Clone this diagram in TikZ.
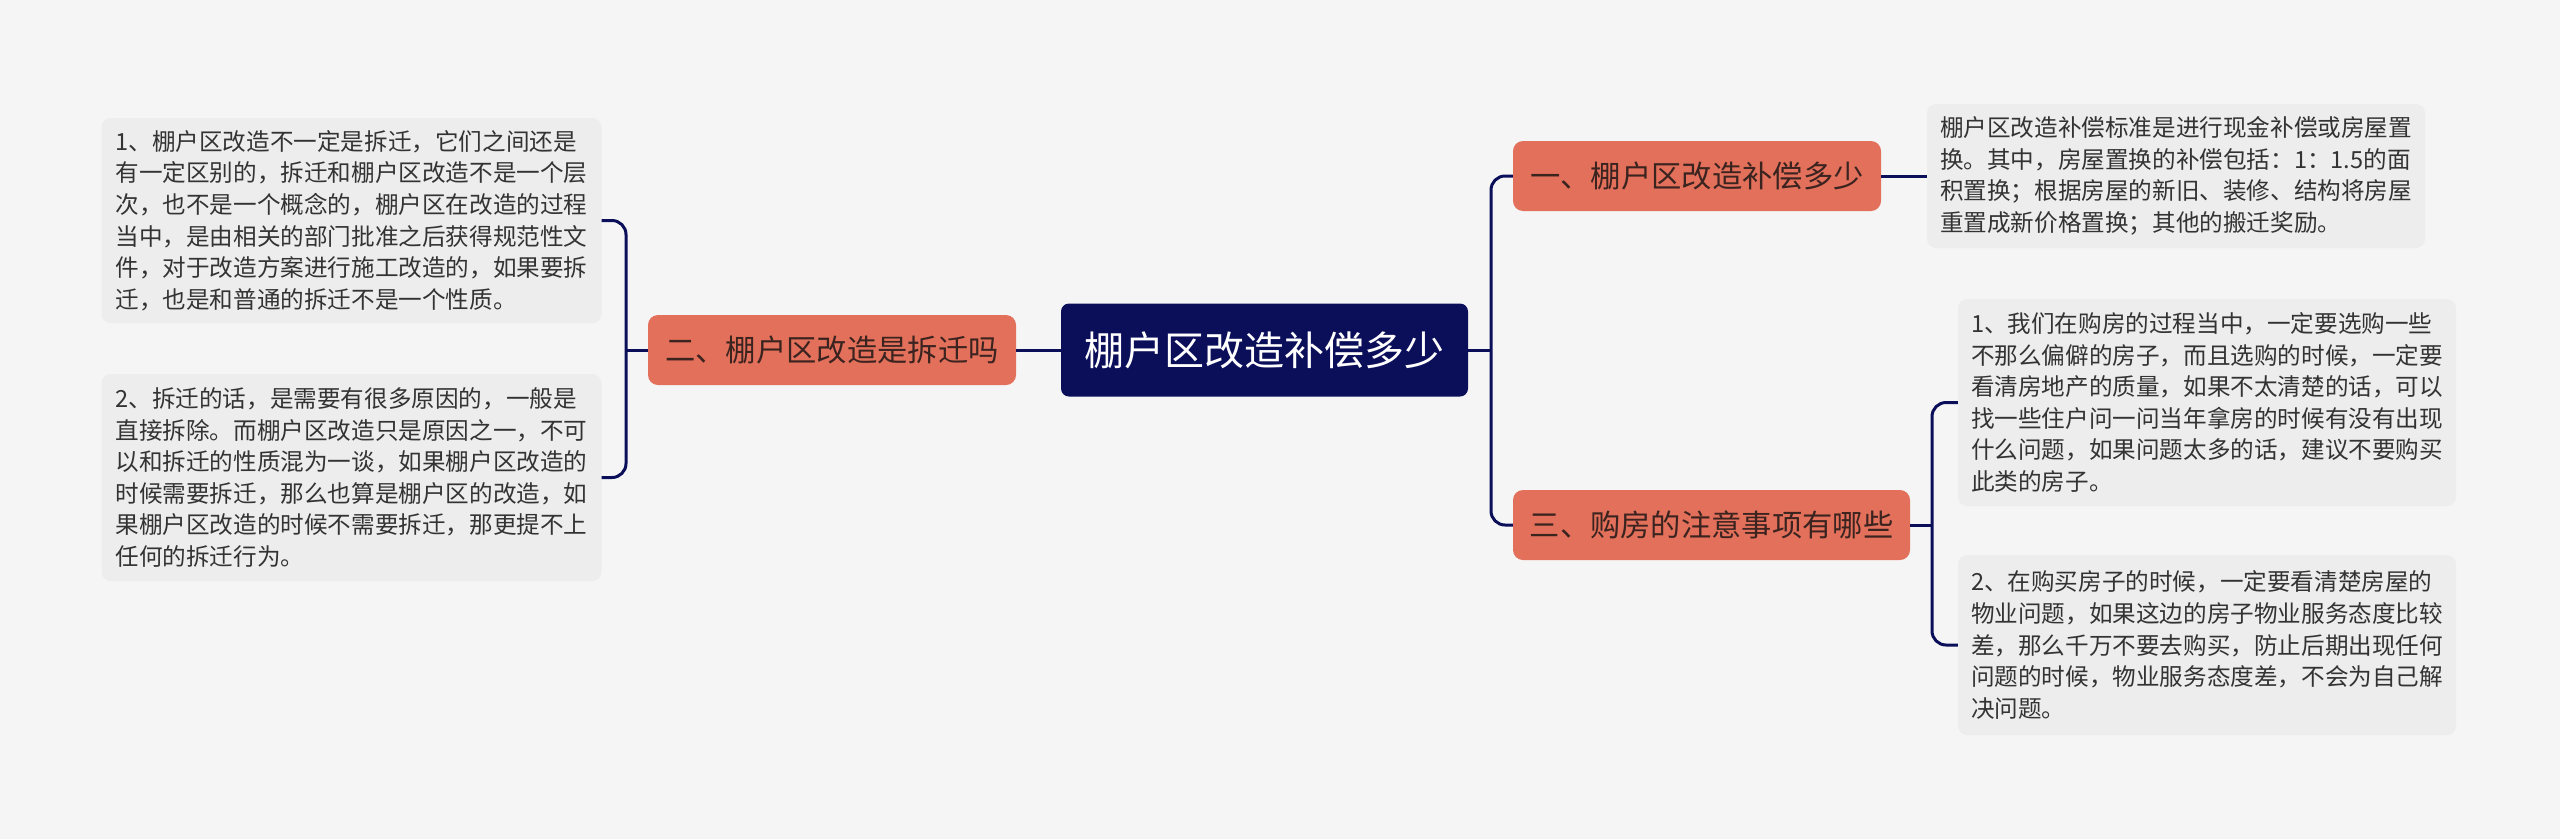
\documentclass[tikz,border=0pt]{standalone}
\usepackage{fontspec}
\setmainfont{Noto Sans CJK SC}
\definecolor{bg}{HTML}{F5F5F5}
\definecolor{navy}{HTML}{0B0F5A}
\definecolor{coral}{HTML}{E2705A}
\definecolor{coraltext}{HTML}{3B2320}
\definecolor{leaffill}{HTML}{EDEDED}
\definecolor{leaftext}{HTML}{333333}
\begin{document}
\begin{tikzpicture}[x=1pt,y=-1pt,
  rootbox/.style={fill=navy, text=white, rounded corners=8pt, inner sep=0pt,
    minimum width=407pt, minimum height=93pt, font=\fontsize{40}{46}\selectfont},
  branchbox/.style={fill=coral, text=coraltext, rounded corners=10pt, inner sep=0pt,
    minimum height=70pt, font=\fontsize{30.3}{35}\selectfont},
  leafbox/.style={fill=leaffill, text=leaftext, rounded corners=9pt, inner sep=0pt,
    minimum width=500pt, align=left, font=\fontsize{23.6}{31.6}\selectfont},
  link/.style={draw=navy, line width=3pt},
  elbow/.style={draw=navy, line width=3pt, rounded corners=14pt}]
\fill[bg] (0,0) rectangle (2560,839);
\useasboundingbox (0,0) rectangle (2560,839);

\node[rootbox] (root) at (1264.5,350) {棚户区改造补偿多少};

\node[branchbox, minimum width=368pt] (b2) at (832,350) {二、棚户区改造是拆迁吗};
\node[branchbox, minimum width=368pt] (b1) at (1697,176) {一、棚户区改造补偿多少};
\node[branchbox, minimum width=397pt] (b3) at (1711.5,525) {三、购房的注意事项有哪些};

\node[leafbox, minimum height=205pt] (l1) at (351.5,220.5) {1、棚户区改造不一定是拆迁，它们之间还是\\有一定区别的，拆迁和棚户区改造不是一个层\\次，也不是一个概念的，棚户区在改造的过程\\当中，是由相关的部门批准之后获得规范性文\\件，对于改造方案进行施工改造的，如果要拆\\迁，也是和普通的拆迁不是一个性质。};
\node[leafbox, minimum height=207pt] (l2) at (351.5,477.5) {2、拆迁的话，是需要有很多原因的，一般是\\直接拆除。而棚户区改造只是原因之一，不可\\以和拆迁的性质混为一谈，如果棚户区改造的\\时候需要拆迁，那么也算是棚户区的改造，如\\果棚户区改造的时候不需要拆迁，那更提不上\\任何的拆迁行为。};

\node[leafbox, minimum width=498pt, minimum height=144pt] (r1) at (2176,176) {棚户区改造补偿标准是进行现金补偿或房屋置\\换。其中，房屋置换的补偿包括：1：1.5的面\\积置换；根据房屋的新旧、装修、结构将房屋\\重置成新价格置换；其他的搬迁奖励。};

\node[leafbox, minimum width=498pt, minimum height=207pt] (r31) at (2207,402.5) {1、我们在购房的过程当中，一定要选购一些\\不那么偏僻的房子，而且选购的时候，一定要\\看清房地产的质量，如果不太清楚的话，可以\\找一些住户问一问当年拿房的时候有没有出现\\什么问题，如果问题太多的话，建议不要购买\\此类的房子。};
\node[leafbox, minimum width=498pt, minimum height=180pt] (r32) at (2207,645) {2、在购买房子的时候，一定要看清楚房屋的\\物业问题，如果这边的房子物业服务态度比较\\差，那么千万不要去购买，防止后期出现任何\\问题的时候，物业服务态度差，不会为自己解\\决问题。};

\coordinate (lx) at (626,350);
\coordinate (rx) at (1491,350);
\coordinate (r3x) at (1932,525);

\draw[link] (root.west) -- (b2.east);
\draw[link] (b2.west) -- (lx);
\draw[elbow] (l1.east) -| (lx) |- (l2.east);

\draw[link] (root.east) -- (rx);
\draw[elbow] (b1.west) -| (rx) |- (b3.west);

\draw[link] (b1.east) -- (r1.west);
\draw[link] (b3.east) -- (r3x);
\draw[elbow] (r31.west) -| (r3x) |- (r32.west);
\end{tikzpicture}
\end{document}
